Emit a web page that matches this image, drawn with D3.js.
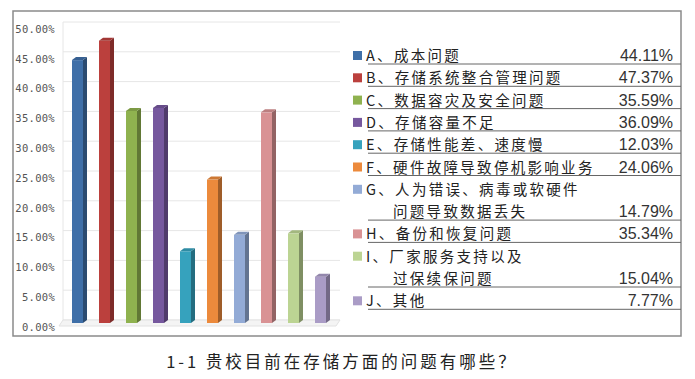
<!DOCTYPE html>
<html>
<head>
<meta charset="utf-8">
<script src="https://cdn.jsdelivr.net/npm/d3@7/dist/d3.min.js"></script>
<style>
  body { margin: 0; background: #fff; }
  .tick text { font-family: "DejaVu Sans Mono", monospace; }
</style>
</head>
<body>
<div class="chart"></div>
<script>
// data
var categories = ["A", "B", "C", "D", "E", "F", "G", "H", "I", "J"];
var values = [44.11, 47.37, 35.59, 36.09, 12.03, 24.06, 14.79, 35.34, 15.04, 7.77];
var labels = [
  ["A、成本问题"],
  ["B、存储系统整合管理问题"],
  ["C、数据容灾及安全问题"],
  ["D、存储容量不足"],
  ["E、存储性能差、速度慢"],
  ["F、硬件故障导致停机影响业务"],
  ["G、人为错误、病毒或软硬件", "问题导致数据丢失"],
  ["H、备份和恢复问题"],
  ["I、厂家服务支持以及", "过保续保问题"],
  ["J、其他"]
];
var colors = ["#3f6fa8", "#bb403d", "#8fb24f", "#76589e", "#36a2bd", "#ec8a3c",
              "#93abd6", "#d99294", "#bcd493", "#aa9cc6"];
var yTicks = [0, 5, 10, 15, 20, 25, 30, 35, 40, 45, 50];
var title = "1-1 贵校目前在存储方面的问题有哪些？";

var svgWidth = 695;
var svgHeight = 379;

var svg = d3.select(".chart")
  .append("svg")
  .attr("width", svgWidth)
  .attr("height", svgHeight);

// outer frame
svg.append("rect")
  .attr("x", 13).attr("y", 11)
  .attr("width", 668).attr("height", 325)
  .attr("fill", "none")
  .attr("stroke", "#8a8a8a")
  .attr("stroke-width", 1.5);

var xScale = d3.scalePoint()
  .domain(categories)
  .range([77.5, 320.5]);

var yScale = d3.scaleLinear()
  .domain([0, 50])
  .range([323, 25]);

var barW = 11, dx = 4, dy = -3;

// back wall gridlines
svg.append("g").selectAll("line")
  .data(yTicks)
  .enter()
  .append("line")
  .attr("x1", 63).attr("x2", 340)
  .attr("y1", d => yScale(d) - 3).attr("y2", d => yScale(d) - 3)
  .attr("stroke", "#e6e6e6");

// left wall and floor
svg.append("line")
  .attr("x1", 63).attr("x2", 63)
  .attr("y1", yScale(50) - 3).attr("y2", yScale(0) - 3)
  .attr("stroke", "#e6e6e6");
svg.append("path")
  .attr("d", `M59,${yScale(0) + 3}L336,${yScale(0) + 3}L340,${yScale(0) - 3}L63,${yScale(0) - 3}Z`)
  .attr("fill", "#f4f4f4")
  .attr("stroke", "#e2e2e2");

// y axis labels
var leftAxis = d3.axisLeft(yScale)
  .tickValues(yTicks)
  .tickSize(0)
  .tickPadding(0)
  .tickFormat(d => d3.format(".2f")(d) + "%");

var axisG = svg.append("g")
  .attr("transform", "translate(55, 4)")
  .call(leftAxis);
axisG.select(".domain").remove();
axisG.selectAll("text")
  .attr("font-size", 10.5)
  .attr("letter-spacing", 0.3)
  .attr("fill", "#555");

// bars
var bars = svg.append("g").selectAll("g.bar")
  .data(values)
  .enter()
  .append("g")
  .attr("class", "bar");

bars.append("rect")
  .attr("x", (d, i) => xScale(categories[i]) - barW / 2)
  .attr("y", d => yScale(d))
  .attr("width", barW)
  .attr("height", d => yScale(0) - yScale(d))
  .attr("fill", (d, i) => colors[i]);

bars.append("path")
  .attr("d", function (d, i) {
    var x = xScale(categories[i]) + barW / 2, yt = yScale(d), yb = yScale(0);
    return `M${x},${yt}L${x + dx},${yt + dy}L${x + dx},${yb + dy}L${x},${yb}Z`;
  })
  .attr("fill", (d, i) => d3.color(colors[i]).darker(1.1));

bars.append("path")
  .attr("d", function (d, i) {
    var x = xScale(categories[i]) - barW / 2, yt = yScale(d);
    return `M${x},${yt}L${x + barW},${yt}L${x + barW + dx},${yt + dy}L${x + dx},${yt + dy}Z`;
  })
  .attr("fill", (d, i) => d3.color(colors[i]).darker(0.4));

// legend
var lineH = 22.3;
var cum = 0;
var rows = labels.map(function (l, i) {
  var first = cum;
  cum += l.length;
  return { lines: l, value: values[i], color: colors[i], first: first, last: cum - 1 };
});
var under = k => 64 + k * lineH;

var legend = svg.append("g");
rows.forEach(function (r) {
  legend.append("rect")
    .attr("x", 353).attr("y", under(r.first) - 13)
    .attr("width", 9).attr("height", 9)
    .attr("fill", r.color);
  r.lines.forEach(function (t, j) {
    legend.append("text")
      .attr("x", j === 0 ? 366 : 393)
      .attr("y", under(r.first + j) - 3)
      .attr("font-family", "'Noto Sans CJK SC', sans-serif")
      .attr("font-size", 14.5)
      .attr("letter-spacing", 2.3)
      .attr("fill", "#222")
      .text(t);
  });
  legend.append("text")
    .attr("x", 673)
    .attr("y", under(r.last) - 3)
    .attr("text-anchor", "end")
    .attr("font-family", "'Liberation Sans', Arial, sans-serif")
    .attr("font-size", 16)
    .attr("fill", "#333")
    .text(d3.format(".2f")(r.value) + "%");
  legend.append("line")
    .attr("x1", 368).attr("x2", 681)
    .attr("y1", under(r.last)).attr("y2", under(r.last))
    .attr("stroke", "#666")
    .attr("stroke-width", 1);
});

// caption
svg.append("text")
  .attr("x", 342)
  .attr("y", 368)
  .attr("text-anchor", "middle")
  .attr("font-family", "'Noto Sans CJK SC', sans-serif")
  .attr("font-size", 16.5)
  .attr("letter-spacing", 3)
  .attr("fill", "#222")
  .text(title);
</script>
</body>
</html>
